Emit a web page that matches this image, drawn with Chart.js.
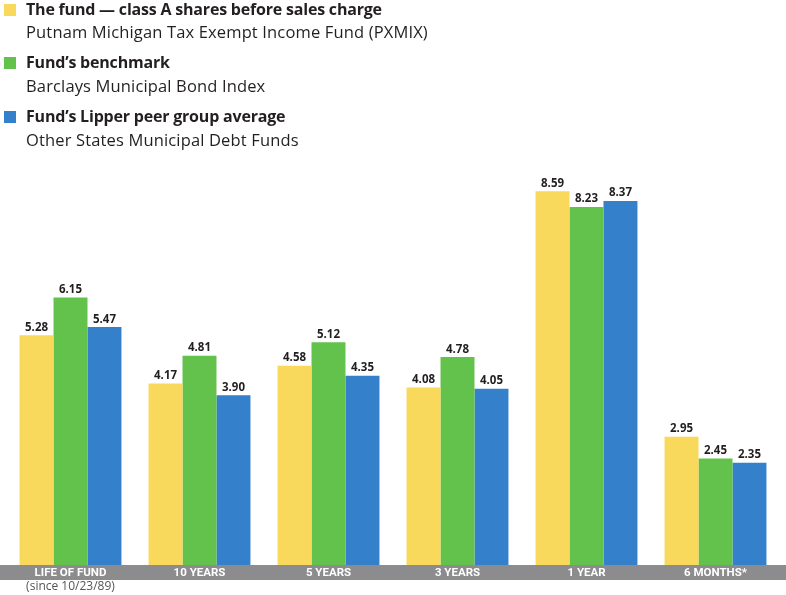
<!DOCTYPE html>
<html>
<head>
<meta charset="utf-8">
<script src="https://cdn.jsdelivr.net/npm/chart.js@4.4.0/dist/chart.umd.min.js"></script>
<style>
  html, body { margin: 0; padding: 0; background: #fff; }
  #wrap { position: relative; width: 786px; height: 595px; overflow: hidden; }
  canvas { position: absolute; left: 0; top: 0; }
  .sw { position: absolute; left: 4px; width: 12px; height: 12px; }
  .t { position: absolute; left: 26px; white-space: nowrap; font-family: "Open Sans", sans-serif; color: #231f20; line-height: 1; }
  .b { font-weight: 700; font-size: 16px; letter-spacing: -0.2px; }
  .r { font-weight: 400; font-size: 16.5px; letter-spacing: 0.15px; }
</style>
</head>
<body>
<div id="wrap">
  <canvas id="c" width="786" height="595"></canvas>
  <div class="sw" style="top:4px;background:#F8D95B"></div>
  <div class="t b" style="top:1px">The fund — class A shares before sales charge</div>
  <div class="t r" style="top:24px">Putnam Michigan Tax Exempt Income Fund (PXMIX)</div>
  <div class="sw" style="top:57px;background:#63C24B"></div>
  <div class="t b" style="top:54px">Fund’s benchmark</div>
  <div class="t r" style="top:78px">Barclays Municipal Bond Index</div>
  <div class="sw" style="top:111px;background:#3580CB"></div>
  <div class="t b" style="top:108px">Fund’s Lipper peer group average</div>
  <div class="t r" style="top:132px">Other States Municipal Debt Funds</div>
</div>
<script>
const categories = ["LIFE OF FUND", "10 YEARS", "5 YEARS", "3 YEARS", "1 YEAR", "6 MONTHS*"];
const categoryNotes = ["(since 10/23/89)", "", "", "", "", ""];
const seriesNames = [
  "The fund — class A shares before sales charge",
  "Fund’s benchmark",
  "Fund’s Lipper peer group average"
];
const fundValues = [5.28, 4.17, 4.58, 4.08, 8.59, 2.95];
const benchmarkValues = [6.15, 4.81, 5.12, 4.78, 8.23, 2.45];
const lipperValues = [5.47, 3.90, 4.35, 4.05, 8.37, 2.35];
const seriesColors = ["#F8D95B", "#63C24B", "#3580CB"];

const bandPlugin = {
  id: 'band',
  beforeDraw(chart) {
    const ctx = chart.ctx;
    ctx.save();
    ctx.fillStyle = '#fff';
    ctx.fillRect(0, 0, chart.width, chart.height);
    ctx.fillStyle = '#8C8C8E';
    ctx.fillRect(0, chart.chartArea.bottom, chart.width, 15);
    ctx.restore();
  },
  afterDraw(chart) {
    const ctx = chart.ctx;
    const xs = chart.scales.x;
    ctx.save();
    ctx.fillStyle = '#555';
    ctx.font = '400 12px "Open Sans", sans-serif';
    ctx.textAlign = 'center';
    ctx.textBaseline = 'middle';
    categoryNotes.forEach((n, i) => {
      if (n) ctx.fillText(n, xs.getPixelForValue(i), chart.chartArea.bottom + 22);
    });
    ctx.restore();
  }
};

const valueLabels = {
  id: 'valueLabels',
  afterDatasetsDraw(chart) {
    const ctx = chart.ctx;
    ctx.save();
    ctx.fillStyle = '#231f20';
    ctx.font = '700 11.5px "Open Sans", sans-serif';
    ctx.textAlign = 'center';
    ctx.textBaseline = 'alphabetic';
    chart.data.datasets.forEach((ds, di) => {
      const meta = chart.getDatasetMeta(di);
      meta.data.forEach((bar, i) => {
        ctx.fillText(ds.data[i].toFixed(2), bar.x, bar.y - 4.5);
      });
    });
    ctx.restore();
  }
};

new Chart(document.getElementById('c'), {
  type: 'bar',
  data: {
    labels: categories,
    datasets: [
      { label: seriesNames[0], data: fundValues, backgroundColor: seriesColors[0] },
      { label: seriesNames[1], data: benchmarkValues, backgroundColor: seriesColors[1] },
      { label: seriesNames[2], data: lipperValues, backgroundColor: seriesColors[2] }
    ]
  },
  options: {
    responsive: false,
    animation: false,
    layout: { padding: { top: 130, left: 6, right: 6, bottom: 0 } },
    plugins: { legend: { display: false }, tooltip: { enabled: false } },
    datasets: { bar: { categoryPercentage: 0.79, barPercentage: 1.0 } },
    scales: {
      x: {
        grid: { display: false, drawTicks: false },
        border: { display: false },
        ticks: { color: '#fff', font: { family: 'Roboto, sans-serif', weight: '700', size: 11.5 }, padding: 1, maxRotation: 0, autoSkip: false },
        afterFit(scale) { scale.height = 30; }
      },
      y: {
        display: false,
        min: 0,
        max: 10
      }
    }
  },
  plugins: [bandPlugin, valueLabels]
});
</script>
</body>
</html>
